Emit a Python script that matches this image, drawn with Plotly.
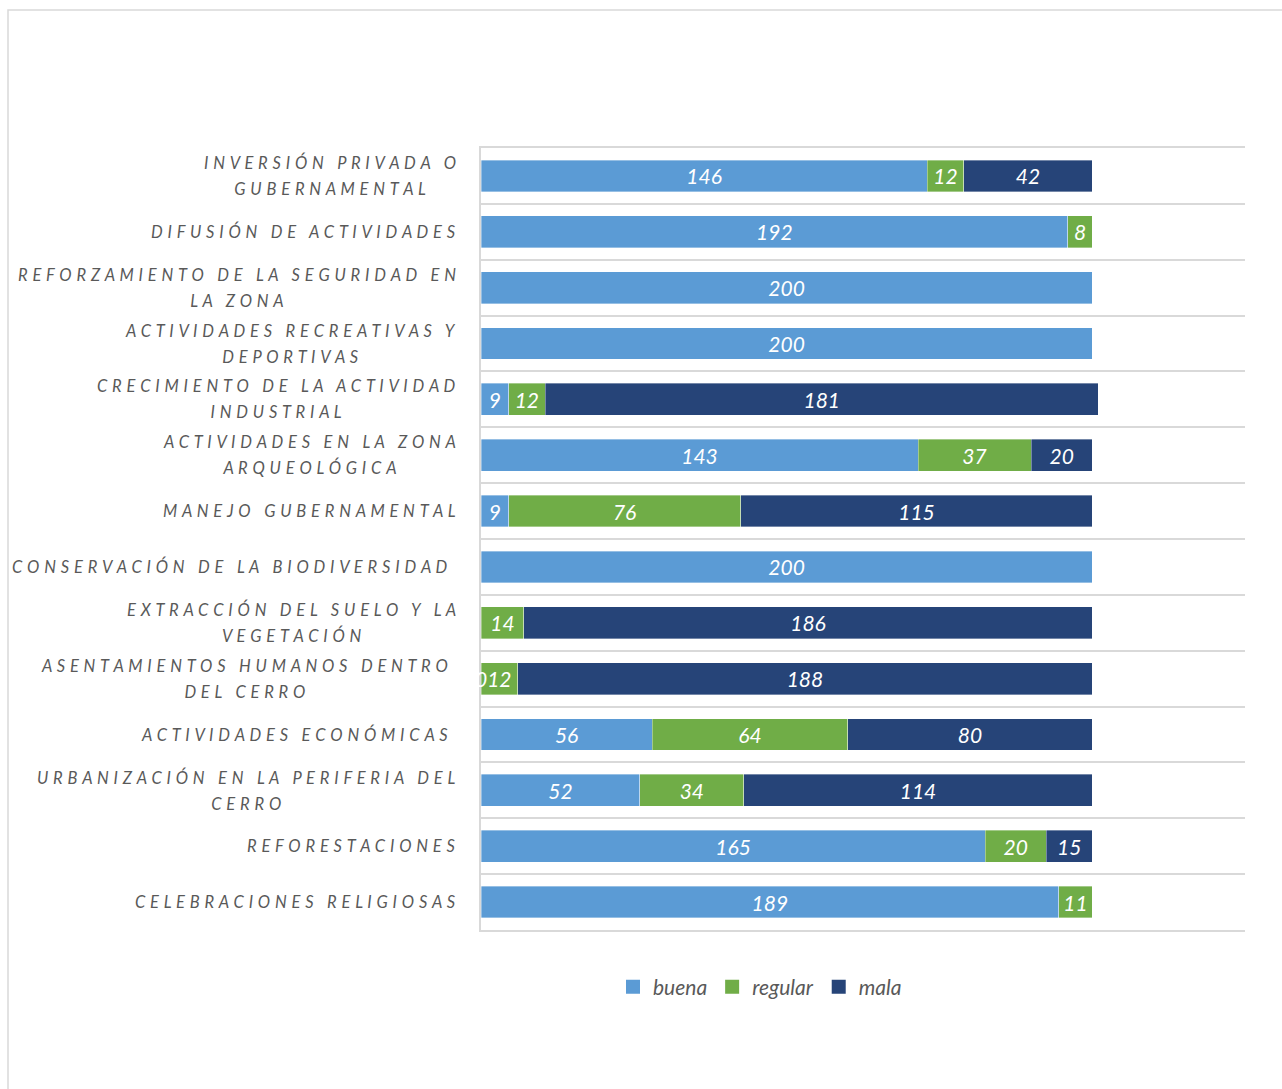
import plotly.graph_objects as go

# Survey categories (top to bottom) and counts per rating
categories = [
    "INVERSIÓN PRIVADA O|GUBERNAMENTAL",
    "DIFUSIÓN DE ACTIVIDADES",
    "REFORZAMIENTO DE LA SEGURIDAD EN|LA ZONA",
    "ACTIVIDADES RECREATIVAS Y|DEPORTIVAS",
    "CRECIMIENTO DE LA ACTIVIDAD|INDUSTRIAL",
    "ACTIVIDADES EN LA ZONA|ARQUEOLÓGICA",
    "MANEJO GUBERNAMENTAL",
    "CONSERVACIÓN DE LA BIODIVERSIDAD",
    "EXTRACCIÓN DEL SUELO Y LA|VEGETACIÓN",
    "ASENTAMIENTOS HUMANOS DENTRO|DEL CERRO",
    "ACTIVIDADES ECONÓMICAS",
    "URBANIZACIÓN EN LA PERIFERIA DEL|CERRO",
    "REFORESTACIONES",
    "CELEBRACIONES RELIGIOSAS",
]
buena = [146, 192, 200, 200, 9, 143, 9, 200, None, 0, 56, 52, 165, 189]
regular = [12, 8, None, None, 12, 37, 76, None, 14, 12, 64, 34, 20, 11]
mala = [42, None, None, None, 181, 20, 115, None, 186, 188, 80, 114, 15, None]

series_names = ["buena", "regular", "mala"]
series_colors = ["#5B9BD5", "#70AD47", "#264478"]

FONT = "Lato"
GRID = "#D9D9D9"
TEXT_GRAY = "#595959"
LABEL_FONT = dict(family=FONT, size=21, color="white", style="italic")
CAT_SIZE = 16.5      # glyph size of category labels
LINE_STEP = 26       # px between lines of a wrapped category label


def spaced(line):
    """Letter-spaced version of one label line."""
    gap = "\u00a0\u200a"
    words = [gap.join(w) for w in line.split(" ")]
    return (gap * 2 + "\u00a0").join(words)


fig = go.Figure()
all_series = [buena, regular, mala]
for name, vals, color in zip(series_names, all_series, series_colors):
    fig.add_trace(go.Bar(
        y=categories,
        x=vals,
        name=name,
        orientation="h",
        marker=dict(color=color, line=dict(color="rgba(255,255,255,0.6)", width=0.6)),
        text=[("" if v is None else str(v)) for v in vals],
        textposition="inside",
        insidetextanchor="middle",
        constraintext="none",
        cliponaxis=False,
        textfont=LABEL_FONT,
        hoverinfo="x+y+name",
        showlegend=False,
    ))
    # legend entry with a larger square swatch
    fig.add_trace(go.Scatter(
        x=[None], y=[None], mode="markers", name=name,
        marker=dict(symbol="square", size=14, color=color),
        showlegend=True, hoverinfo="skip",
    ))

# Zero-valued segments have no width, so their value label sits at the base
for i, cat in enumerate(categories):
    base = 0
    for vals in all_series:
        v = vals[i]
        if v == 0:
            fig.add_annotation(
                x=base, y=cat, xref="x", yref="y", text=str(v),
                showarrow=False, xanchor="center", yanchor="middle",
                font=LABEL_FONT,
            )
        if v is not None:
            base += v

# Category labels: the annotation font size sets the line pitch, the inner
# span sets the glyph size, so wrapped lines stay centred with wider spacing.
shift_extra = {
    "CONSERVACIÓN DE LA BIODIVERSIDAD": 8,
    "ASENTAMIENTOS HUMANOS DENTRO|DEL CERRO": 8,
    "ACTIVIDADES ECONÓMICAS": 8,
}
for cat in categories:
    lines = [
        f'<span style="font-size:{CAT_SIZE}px">{spaced(s)}</span>'
        for s in cat.split("|")
    ]
    fig.add_annotation(
        x=0, xref="paper", y=cat, yref="y",
        text="<br>".join(lines), showarrow=False,
        xanchor="right", yanchor="middle", align="center",
        xshift=-23 - shift_extra.get(cat, 0),
        font=dict(family=FONT, size=LINE_STEP / 1.3, color=TEXT_GRAY, style="italic"),
    )

W, H = 1282, 1089
L, R, T, B = 481, 37, 148, 159
pw, ph = W - L - R, H - T - B

# Outer chart-area border
fig.add_shape(
    type="rect", xref="paper", yref="paper",
    x0=(8 - L) / pw, x1=(W + 10 - L) / pw,
    y0=-(H + 10 - (H - B)) / ph, y1=(H - B - 10) / ph,
    line=dict(color=GRID, width=1.5), fillcolor="rgba(0,0,0,0)", layer="below",
)

fig.update_layout(
    width=W, height=H,
    margin=dict(l=L, r=R, t=T, b=B),
    barmode="stack",
    bargap=0.43,
    plot_bgcolor="white",
    paper_bgcolor="white",
    showlegend=True,
    legend=dict(
        orientation="h", x=(760 - L) / pw, xanchor="center",
        y=-(987 - (H - B)) / ph, yanchor="middle",
        traceorder="normal",
        font=dict(family=FONT, size=21, color=TEXT_GRAY, style="italic"),
        itemwidth=30, tracegroupgap=0,
    ),
    xaxis=dict(
        range=[0, 250], showgrid=False, zeroline=False,
        showticklabels=False, ticks="",
        showline=True, mirror=True, linecolor=GRID, linewidth=1.5,
        fixedrange=True,
    ),
    yaxis=dict(
        autorange="reversed", showticklabels=False, ticks="",
        tickson="boundaries", showgrid=True, gridcolor=GRID, gridwidth=1.5,
        showline=True, linecolor=GRID, linewidth=1.5,
        fixedrange=True,
    ),
)

fig.write_html("out.html", config={"displayModeBar": False})
